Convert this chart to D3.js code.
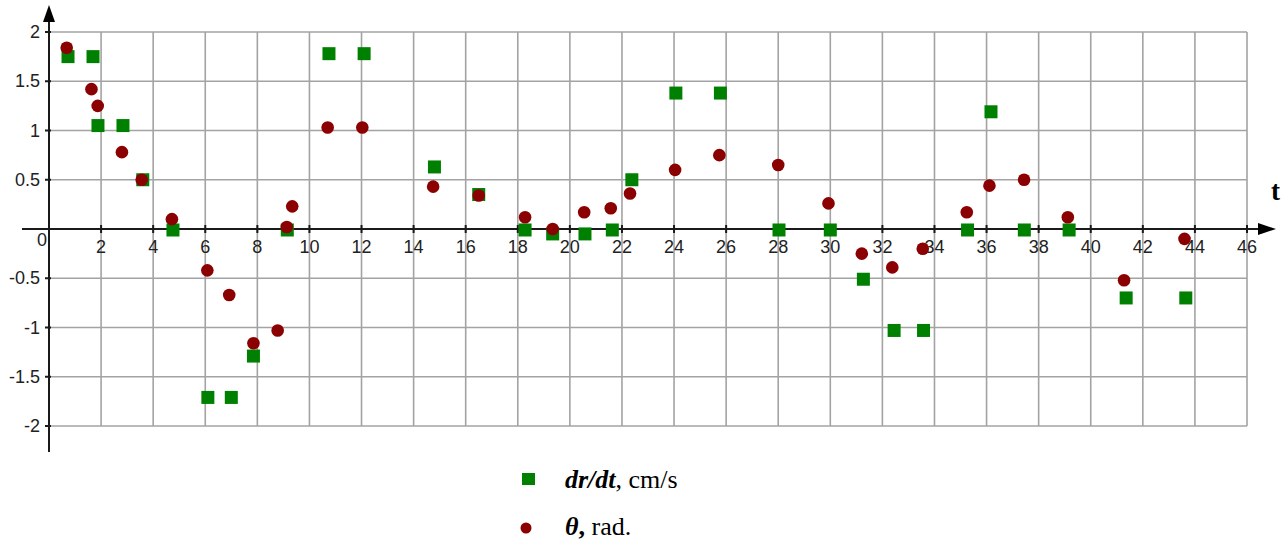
<!DOCTYPE html>
<html>
<head>
<meta charset="utf-8">
<script src="https://cdn.jsdelivr.net/npm/d3@7"></script>
<style>
  html, body { margin: 0; padding: 0; background: #fff; }
  svg { display: block; }
  .tick-label { font-family: "Liberation Sans", Arial, sans-serif; font-size: 18px; fill: #222; }
  .legend text { font-family: "Liberation Serif", "Times New Roman", serif; font-size: 26px; fill: #000; }
</style>
</head>
<body>
<svg id="chart"></svg>
<script>
// dr/dt, cm/s (green squares)
var drdtTimes  = [0.73, 1.69, 1.88, 2.84, 3.6, 4.76, 6.1, 7.0, 7.85, 9.15, 10.75, 12.1, 14.8, 16.5, 18.28, 19.34, 20.58, 21.63, 22.38, 24.07, 25.78, 28.03, 30.0, 31.27, 32.45, 33.58, 35.27, 36.17, 37.45, 39.17, 41.36, 43.65];
var drdtValues = [1.75, 1.75, 1.05, 1.05, 0.5, -0.01, -1.71, -1.71, -1.29, -0.01, 1.78, 1.78, 0.63, 0.35, -0.01, -0.05, -0.05, -0.01, 0.5, 1.38, 1.38, -0.01, -0.01, -0.51, -1.03, -1.03, -0.01, 1.19, -0.01, -0.01, -0.7, -0.7];

// theta, rad. (dark red dots)
var thetaTimes  = [0.68, 1.63, 1.87, 2.8, 3.56, 4.72, 6.08, 6.92, 7.85, 8.78, 9.13, 9.34, 10.7, 12.03, 14.75, 16.5, 18.28, 19.34, 20.55, 21.57, 22.31, 24.04, 25.74, 28.0, 29.93, 31.21, 32.38, 33.55, 35.24, 36.11, 37.44, 39.12, 41.28, 43.6];
var thetaValues = [1.84, 1.42, 1.25, 0.78, 0.5, 0.1, -0.42, -0.67, -1.16, -1.03, 0.02, 0.23, 1.03, 1.03, 0.43, 0.34, 0.12, 0.0, 0.17, 0.21, 0.36, 0.6, 0.75, 0.65, 0.26, -0.25, -0.39, -0.2, 0.17, 0.44, 0.5, 0.12, -0.52, -0.1];

var xTickValues = [2, 4, 6, 8, 10, 12, 14, 16, 18, 20, 22, 24, 26, 28, 30, 32, 34, 36, 38, 40, 42, 44, 46];
var yTickValues = [-2, -1.5, -1, -0.5, 0.5, 1, 1.5, 2];
var yGridValues = [-2, -1.5, -1, -0.5, 0, 0.5, 1, 1.5, 2];

var width = 1288, height = 544;

var x = d3.scaleLinear().domain([0, 46]).range([49, 1247]);
var y = d3.scaleLinear().domain([-2, 2]).range([426, 32]);

var svg = d3.select("#chart").attr("width", width).attr("height", height);

// grid
var grid = svg.append("g").attr("stroke", "#a3a3a3").attr("stroke-width", 1.6);
grid.selectAll("line.v")
  .data(xTickValues)
  .enter().append("line")
    .attr("x1", function(d) { return x(d); })
    .attr("x2", function(d) { return x(d); })
    .attr("y1", y(2))
    .attr("y2", y(-2));
grid.selectAll("line.h")
  .data(yGridValues)
  .enter().append("line")
    .attr("x1", x(0))
    .attr("x2", x(46))
    .attr("y1", function(d) { return y(d); })
    .attr("y2", function(d) { return y(d); });

// axes
var axes = svg.append("g").attr("stroke", "#1a1a1a").attr("stroke-width", 2);
axes.append("line").attr("x1", 22).attr("x2", 1262).attr("y1", y(0)).attr("y2", y(0));
axes.append("line").attr("x1", x(0)).attr("x2", x(0)).attr("y1", 452).attr("y2", 18);
svg.append("path")
  .attr("d", "M1276," + y(0) + " L1258," + (y(0) - 6) + " L1258," + (y(0) + 6) + " Z")
  .attr("fill", "#000");
svg.append("path")
  .attr("d", "M" + x(0) + ",5 L" + (x(0) - 6) + ",22 L" + (x(0) + 6) + ",22 Z")
  .attr("fill", "#000");

// tick marks
axes.selectAll("line.xt")
  .data(xTickValues)
  .enter().append("line")
    .attr("x1", function(d) { return x(d); })
    .attr("x2", function(d) { return x(d); })
    .attr("y1", y(0) - 4)
    .attr("y2", y(0) + 4);
axes.selectAll("line.yt")
  .data(yTickValues)
  .enter().append("line")
    .attr("x1", x(0) - 4)
    .attr("x2", x(0) + 2)
    .attr("y1", function(d) { return y(d); })
    .attr("y2", function(d) { return y(d); });

// tick labels
svg.selectAll("text.xl")
  .data(xTickValues)
  .enter().append("text")
    .attr("class", "tick-label")
    .attr("x", function(d) { return x(d); })
    .attr("y", 253)
    .attr("text-anchor", "middle")
    .text(function(d) { return d; });
svg.selectAll("text.yl")
  .data(yTickValues)
  .enter().append("text")
    .attr("class", "tick-label")
    .attr("x", 40)
    .attr("y", function(d) { return y(d) + 6; })
    .attr("text-anchor", "end")
    .text(function(d) { return d; });
svg.append("text")
  .attr("class", "tick-label")
  .attr("x", 42)
  .attr("y", 246)
  .attr("text-anchor", "middle")
  .text("0");

svg.append("text")
  .attr("x", 1271)
  .attr("y", 200)
  .attr("font-family", "Liberation Serif, serif")
  .attr("font-weight", "bold")
  .attr("font-size", 27)
  .text("t");

// dr/dt squares
var sq = 13;
svg.append("g").selectAll("rect")
  .data(drdtTimes)
  .enter().append("rect")
    .attr("x", function(d) { return x(d) - sq / 2; })
    .attr("y", function(d, i) { return y(drdtValues[i]) - sq / 2; })
    .attr("width", sq)
    .attr("height", sq)
    .attr("fill", "#008000");

// theta dots
svg.append("g").selectAll("circle")
  .data(thetaTimes)
  .enter().append("circle")
    .attr("cx", function(d) { return x(d); })
    .attr("cy", function(d, i) { return y(thetaValues[i]); })
    .attr("r", 6.3)
    .attr("fill", "#8b0000");

// legend
var legend = svg.append("g").attr("class", "legend");
legend.append("rect")
  .attr("x", 522).attr("y", 473).attr("width", 13).attr("height", 12)
  .attr("fill", "#008000");
var t1 = legend.append("text").attr("x", 565).attr("y", 488);
t1.append("tspan").attr("font-weight", "bold").attr("font-style", "italic").text("dr/dt");
t1.append("tspan").text(", cm/s");

legend.append("circle")
  .attr("cx", 526).attr("cy", 528).attr("r", 5.5)
  .attr("fill", "#8b0000");
var t2 = legend.append("text").attr("x", 565).attr("y", 535);
t2.append("tspan").attr("font-weight", "bold").attr("font-style", "italic").text("θ");
t2.append("tspan").attr("font-weight", "bold").text(",");
t2.append("tspan").text(" rad.");
</script>
</body>
</html>
